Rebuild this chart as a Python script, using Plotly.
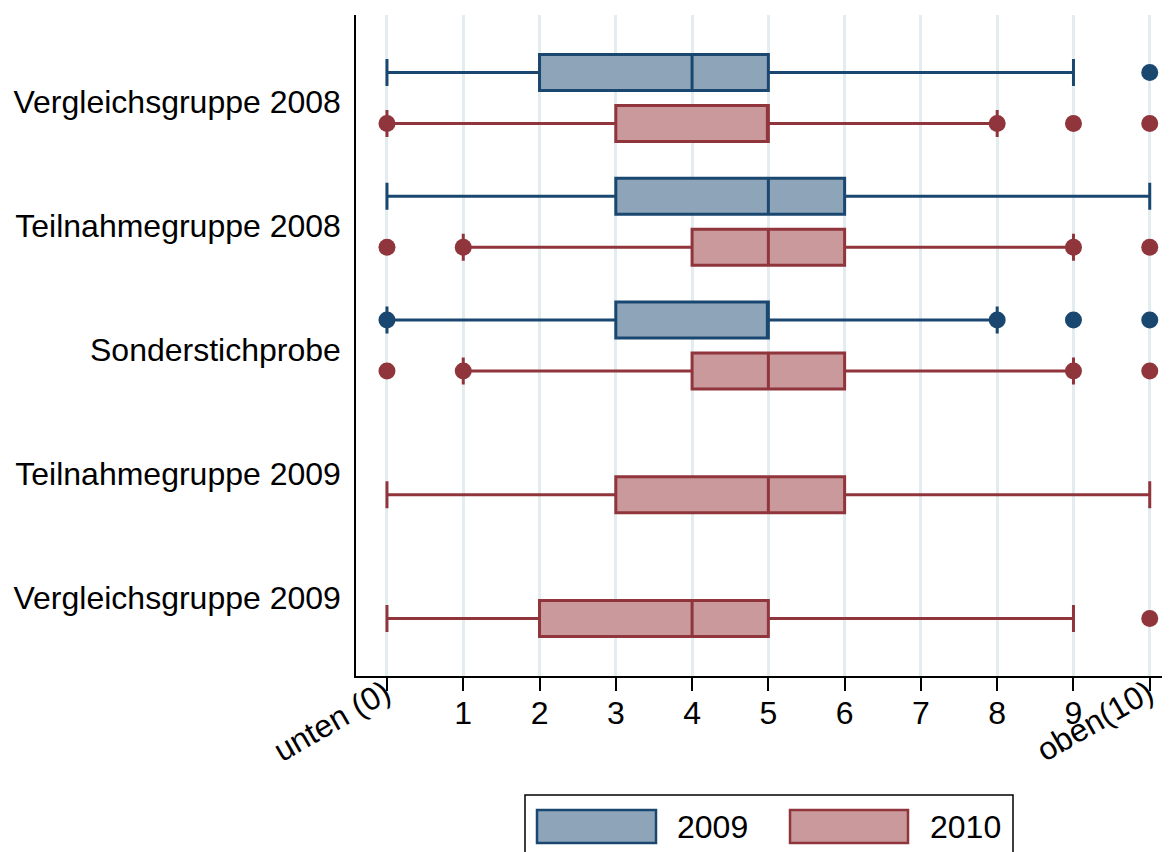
import plotly.graph_objects as go

groups = ["Vergleichsgruppe 2008", "Teilnahmegruppe 2008", "Sonderstichprobe",
          "Teilnahmegruppe 2009", "Vergleichsgruppe 2009"]

# 2009 series (only first three groups)
g09 = [0, 1, 2]
lo09 = [0, 0, 0]
q1_09 = [2, 3, 3]
med09 = [4, 5, 5]
q3_09 = [5, 6, 5]
hi09 = [9, 10, 8]
out09 = {0: [10], 1: [], 2: [0, 8, 9, 10]}

# 2010 series (all groups)
g10 = [0, 1, 2, 3, 4]
lo10 = [0, 1, 1, 0, 0]
q1_10 = [3, 4, 4, 3, 2]
med10 = [5, 5, 5, 5, 4]
q3_10 = [5, 6, 6, 6, 5]
hi10 = [8, 9, 9, 10, 9]
out10 = {0: [0, 8, 9, 10], 1: [0, 1, 9, 10], 2: [0, 1, 9, 10], 3: [], 4: [10]}

tick_vals = list(range(0, 11))
tick_text = ["", "1", "2", "3", "4", "5", "6", "7", "8", "9", ""]
end_labels = {0: "unten (0)", 10: "oben(10)"}

BLUE_L, BLUE_F = "#1a476f", "#8ea4b8"
RED_L, RED_F = "#90353b", "#c9999c"
OFF = 0.206
LABEL_NUDGE = 0.035
FONT = "Liberation Sans, Arial, sans-serif"
FS = 32

fig = go.Figure()

def add_series(idx, lo, q1, med, q3, hi, outs, off, lc, fc, name):
    pos = [i + off for i in idx]
    fig.add_trace(go.Box(
        y=pos, lowerfence=lo, q1=q1, median=med, q3=q3, upperfence=hi,
        orientation="h", width=0.29, whiskerwidth=0.75,
        line=dict(color=lc, width=3), fillcolor=fc, name=name,
        boxpoints=False, showlegend=False, hoverinfo="x"))
    ox, oy = [], []
    for i in idx:
        for v in outs[i]:
            ox.append(v)
            oy.append(i + off)
    fig.add_trace(go.Scatter(x=ox, y=oy, mode="markers", cliponaxis=False,
                             marker=dict(color=lc, size=17), showlegend=False))

add_series(g09, lo09, q1_09, med09, q3_09, hi09, out09, -OFF, BLUE_L, BLUE_F, "2009")
add_series(g10, lo10, q1_10, med10, q3_10, hi10, out10, OFF, RED_L, RED_F, "2010")

fig.update_layout(
    width=1170, height=852,
    margin=dict(l=348, r=13, t=7, b=184),
    paper_bgcolor="white", plot_bgcolor="white",
    font=dict(family=FONT, size=FS, color="black"),
    xaxis=dict(range=[-0.406, 10.2], tickvals=tick_vals, ticktext=tick_text,
               showgrid=True, gridcolor="#e3edf0", gridwidth=2.5,
               showline=True, linecolor="black", linewidth=1.5,
               ticks="outside", ticklen=13, tickwidth=1.5, tickcolor="black",
               ticklabelstandoff=-5,
               zeroline=False, tickfont=dict(size=FS), automargin=False),
    yaxis=dict(range=[4.67, -0.67],
               tickvals=[i + LABEL_NUDGE for i in range(len(groups))], ticktext=groups,
               showgrid=False, zeroline=False, showline=True, linecolor="black",
               linewidth=1.5, ticks="", ticklabelstandoff=7, tickfont=dict(size=FS),
               automargin=False),
)

for v, t in end_labels.items():
    fig.add_annotation(x=v, xref="x", y=-0.018, yref="paper", text=t,
                       textangle=-30, showarrow=False, xanchor="right", yanchor="top",
                       xshift=12, yshift=17, font=dict(size=FS, family=FONT))

# custom legend (page pixel -> paper coordinates)
def px(p):
    return (p - 356) / 809

def py(p):
    return (676 - p) / 661

fig.add_shape(type="rect", xref="paper", yref="paper", x0=px(525), x1=px(1013),
              y0=py(795), y1=py(870), line=dict(color="black", width=1.5),
              fillcolor="white")
for (x0, x1, tx, lc, fc, lab) in [(537, 656, 675, BLUE_L, BLUE_F, "2009"),
                                   (790, 908, 928, RED_L, RED_F, "2010")]:
    fig.add_shape(type="rect", xref="paper", yref="paper", x0=px(x0), x1=px(x1),
                  y0=py(810), y1=py(843), line=dict(color=lc, width=2.5), fillcolor=fc)
    fig.add_annotation(x=px(tx), y=py(827), xref="paper", yref="paper", text=lab,
                       showarrow=False, xanchor="left", yanchor="middle",
                       font=dict(size=FS, family=FONT))

fig.write_html("out.html")
